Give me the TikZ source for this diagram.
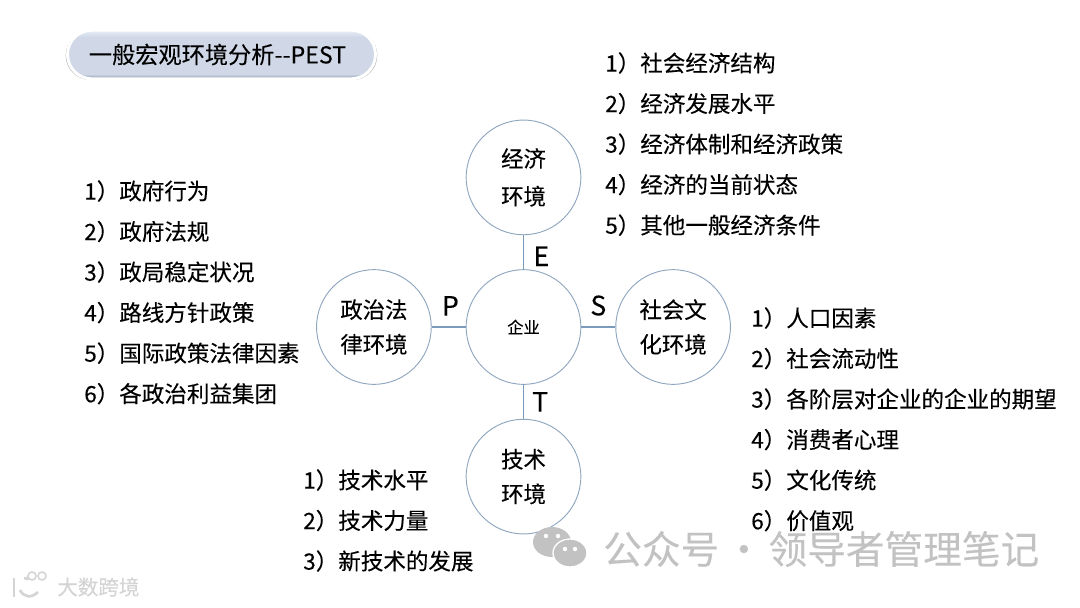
\documentclass[tikz,border=0pt]{standalone}
\usepackage{fontspec}
\setmainfont[FakeBold=0.2]{Noto Sans CJK SC}
\usetikzlibrary{arrows.meta,positioning,shapes.misc,shadows}
\definecolor{ringc}{HTML}{8FA6BF}
\definecolor{connc}{HTML}{7C9BBB}
\definecolor{wmarkc}{HTML}{C2C2C2}
\definecolor{ttllow}{HTML}{9AA5BA}
\definecolor{ttlmid}{HTML}{D0D8E8}
\definecolor{ttltop}{HTML}{E6ECF6}
\pgfdeclareverticalshading{ttlshade}{100bp}{color(0bp)=(ttllow); color(26bp)=(ttllow); color(30bp)=(ttlmid); color(68bp)=(ttlmid); color(74bp)=(ttltop); color(100bp)=(ttltop)}
\tikzset{
  ring/.style={draw=ringc, circle, line width=0.7pt, minimum size=86pt, inner sep=0pt, align=center, font=\fontsize{16.8}{26}\selectfont},
  conn/.style={draw=connc, line width=1pt},
  lbl/.style={font=\fontsize{20}{22}\selectfont, inner sep=8pt},
  lst/.style={anchor=north west, align=left, inner sep=0pt, font=\fontsize{16.9}{30.4}\selectfont},
  ttl/.style={draw=white, line width=2.2pt, shading=ttlshade, rounded rectangle, minimum width=231pt, minimum height=36.5pt, inner sep=0pt, font=\fontsize{17.4}{20}\selectfont, drop shadow={opacity=0.6, shadow xshift=0pt, shadow yshift=-0.6pt, shadow scale=1.012}},
  wmark/.style={text=wmarkc, inner sep=0pt, font=\fontsize{29}{32}\selectfont}
}
\begin{document}
\begin{tikzpicture}[x=0.75pt, y=-0.75pt, node distance=25.5pt]
  \useasboundingbox (0,0) rectangle (1080,607);
  % title
  \node[ttl] (title) at (221.5,54.5) {\hspace{-6pt}一般宏观环境分析-{}-PEST};
  % rings
  \node[ring, font=\fontsize{12.2}{15}\selectfont] (qiye) at (523.5,327) {企业};
  \node[ring, above=of qiye, font=\fontsize{16.8}{28.2}\selectfont] (econ) {经济\\环境};
  \node[ring, below=of qiye] (tech) {技术\\环境};
  \node[ring, left=of qiye] (poli) {政治法\\律环境};
  \node[ring, right=of qiye] (soci) {社会文\\化环境};
  \draw[conn] (qiye) -- node[lbl, right, pos=0.38, inner sep=7pt]{E} (econ);
  \draw[conn] (qiye) -- node[lbl, right, inner sep=6pt]{T} (tech);
  \draw[conn] (qiye) -- node[lbl, above, pos=0.45]{P} (poli);
  \draw[conn] (qiye) -- node[lbl, above]{S} (soci);
  % lists
  \node[lst] (econlist) at (605,52) {1）社会经济结构\\2）经济发展水平\\3）经济体制和经济政策\\4）经济的当前状态\\5）其他一般经济条件};
  \node[lst] (polilist) at (84,180) {1）政府行为\\2）政府法规\\3）政局稳定状况\\4）路线方针政策\\5）国际政策法律因素\\6）各政治利益集团};
  \node[lst] (socilist) at (751,307) {1）人口因素\\2）社会流动性\\3）各阶层对企业的企业的期望\\4）消费者心理\\5）文化传统\\6）价值观};
  \node[lst] (techlist) at (303,469) {1）技术水平\\2）技术力量\\3）新技术的发展};
  % watermarks
  \fill[wmarkc] (552,542) ellipse (19 and 15);
  \filldraw[wmarkc, draw=white, line width=1pt] (570,553) ellipse (17 and 14);
  \fill[white] (546,536) circle (2.2) (558,536) circle (2.2) (565,549) circle (2.2) (575,549) circle (2.2);
  \node[wmark, anchor=west] (wm) at (603,549) {公众号\hspace{4pt}·\hspace{4pt}领导者管理笔记};
  \draw[wmarkc!70, line width=2pt] (14,578) -- (14,597);
  \draw[wmarkc!70, line width=2pt] (28,580) arc (0:-150:2) (20,590) .. controls (24,598) and (32,598) .. (38,592);
  \draw[wmarkc!70, line width=1.2pt] (32,576) circle (4) (42,576) circle (4);
  \node[wmark, anchor=west, text=wmarkc!70, font=\fontsize{15.4}{18}\selectfont] (wmb) at (57,587) {大数跨境};
\end{tikzpicture}
\end{document}
